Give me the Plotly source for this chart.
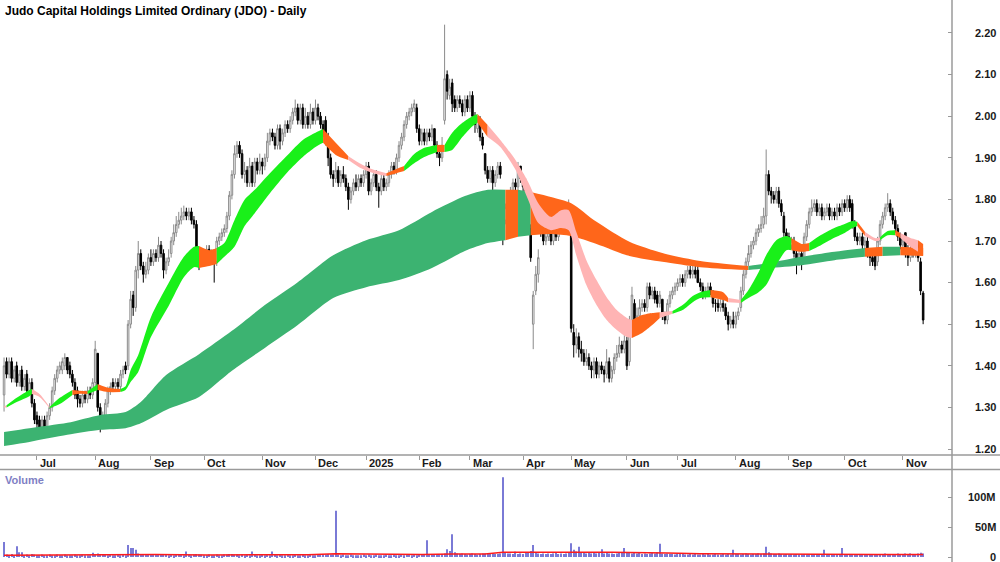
import pandas as pd
import plotly.graph_objects as go

# ---------------- trading days (ASX) ----------------
asx_holidays = ['2024-12-25', '2024-12-26', '2025-01-01', '2025-01-27',
                '2025-04-18', '2025-04-21', '2025-04-25', '2025-06-09']
dates = [d.strftime('%Y-%m-%d') for d in pd.bdate_range('2024-06-12', '2025-11-13')
         if d.strftime('%Y-%m-%d') not in asx_holidays]

# ---------------- daily prices ----------------
opens = [
 1.33,1.41,1.38,1.41,1.37,1.40,1.36,1.39,1.35,1.38,
 1.34,1.36,1.31,1.28,1.27,1.25,1.27,1.25,1.28,1.30,
 1.34,1.37,1.39,1.39,1.40,1.42,1.40,1.38,1.36,1.34,
 1.32,1.31,1.33,1.32,1.34,1.33,1.36,1.43,1.30,1.26,
 1.27,1.31,1.34,1.36,1.35,1.36,1.35,1.38,1.40,1.40,
 1.50,1.57,1.54,1.63,1.67,1.64,1.62,1.63,1.66,1.65,
 1.67,1.66,1.69,1.67,1.63,1.65,1.67,1.70,1.72,1.74,
 1.75,1.76,1.77,1.76,1.77,1.75,1.74,1.66,1.65,1.67,
 1.66,1.68,1.66,1.67,1.65,1.70,1.71,1.72,1.73,1.76,
 1.81,1.86,1.91,1.93,1.91,1.86,1.87,1.84,1.88,1.84,
 1.89,1.87,1.89,1.88,1.90,1.94,1.96,1.95,1.93,1.97,
 1.94,1.96,1.98,1.97,1.99,2.01,2.02,1.99,2.02,1.98,
 2.00,1.98,2.01,1.99,2.02,2.00,1.98,1.99,1.94,1.90,
 1.86,1.85,1.87,1.84,1.86,1.85,1.83,1.80,1.82,1.84,
 1.83,1.85,1.84,1.86,1.88,1.82,1.84,1.86,1.83,1.82,
 1.85,1.83,1.84,1.86,1.88,1.87,1.90,1.93,1.95,1.98,
 2.00,2.01,2.02,2.02,1.97,1.94,1.96,1.94,1.96,1.95,
 1.97,1.93,1.91,1.90,1.99,2.10,2.05,2.08,2.04,2.02,
 2.04,2.03,2.01,2.04,2.02,2.05,2.00,1.97,1.99,1.95,
 1.91,1.87,1.85,1.87,1.84,1.86,1.88,1.78,1.75,1.78,
 1.80,1.82,1.84,1.83,1.88,1.85,1.83,1.80,1.73,1.50,
 1.58,1.62,1.76,1.72,1.70,1.71,1.72,1.70,1.72,1.71,
 1.73,1.75,1.77,1.77,1.77,1.48,1.45,1.47,1.44,1.43,
 1.41,1.42,1.40,1.39,1.41,1.38,1.40,1.39,1.38,1.41,
 1.37,1.39,1.42,1.43,1.45,1.44,1.46,1.41,1.50,1.55,
 1.51,1.52,1.54,1.55,1.54,1.59,1.57,1.58,1.57,1.55,
 1.56,1.52,1.51,1.55,1.57,1.58,1.59,1.60,1.61,1.60,
 1.62,1.63,1.62,1.63,1.63,1.60,1.59,1.57,1.58,1.59,
 1.58,1.55,1.55,1.54,1.55,1.54,1.52,1.50,1.51,1.50,
 1.52,1.54,1.58,1.62,1.65,1.67,1.69,1.70,1.72,1.73,
 1.74,1.76,1.86,1.82,1.81,1.80,1.82,1.79,1.76,1.72,
 1.71,1.69,1.70,1.67,1.65,1.67,1.65,1.71,1.74,1.77,
 1.78,1.79,1.77,1.78,1.76,1.77,1.78,1.76,1.77,1.76,
 1.78,1.77,1.79,1.78,1.80,1.79,1.74,1.71,1.70,1.71,
 1.69,1.70,1.67,1.66,1.67,1.65,1.70,1.74,1.76,1.78,
 1.79,1.77,1.75,1.73,1.71,1.69,1.72,1.67,1.66,1.68,
 1.67,1.69,1.65,1.575]

highs = [
 1.42,1.42,1.42,1.42,1.40,1.41,1.39,1.40,1.38,1.39,
 1.37,1.37,1.32,1.29,1.28,1.28,1.28,1.29,1.31,1.35,
 1.38,1.40,1.41,1.42,1.43,1.42,1.41,1.39,1.37,1.35,
 1.33,1.34,1.34,1.35,1.35,1.37,1.46,1.43,1.31,1.29,
 1.32,1.35,1.36,1.37,1.37,1.37,1.39,1.40,1.41,1.51,
 1.58,1.58,1.64,1.70,1.68,1.65,1.65,1.67,1.68,1.68,
 1.68,1.71,1.70,1.68,1.66,1.68,1.71,1.74,1.76,1.77,
 1.78,1.785,1.78,1.78,1.78,1.76,1.75,1.67,1.68,1.68,
 1.69,1.69,1.68,1.68,1.71,1.72,1.73,1.74,1.77,1.82,
 1.87,1.93,1.94,1.94,1.92,1.89,1.88,1.90,1.89,1.90,
 1.90,1.91,1.90,1.91,1.96,1.97,1.97,1.96,1.98,1.98,
 1.97,1.99,1.99,2.00,2.02,2.04,2.03,2.03,2.03,2.02,
 2.01,2.03,2.02,2.04,2.03,2.01,1.99,2.00,1.96,1.91,
 1.87,1.89,1.88,1.87,1.88,1.86,1.84,1.83,1.85,1.86,
 1.86,1.86,1.87,1.89,1.89,1.85,1.87,1.87,1.84,1.86,
 1.86,1.85,1.87,1.89,1.89,1.91,1.94,1.96,1.99,2.01,
 2.02,2.03,2.04,2.03,1.98,1.97,1.97,1.97,1.97,1.98,
 1.97,1.94,1.92,1.95,2.22,2.11,2.09,2.09,2.05,2.05,
 2.05,2.04,2.05,2.05,2.06,2.06,2.01,2.00,2.00,1.96,
 1.91,1.88,1.88,1.88,1.87,1.89,1.89,1.79,1.79,1.81,
 1.83,1.85,1.85,1.89,1.88,1.86,1.85,1.81,1.74,1.58,
 1.64,1.68,1.77,1.73,1.72,1.73,1.73,1.73,1.73,1.74,
 1.76,1.78,1.79,1.80,1.78,1.50,1.49,1.48,1.46,1.44,
 1.44,1.43,1.41,1.42,1.42,1.41,1.41,1.40,1.44,1.42,
 1.40,1.43,1.45,1.47,1.46,1.48,1.47,1.52,1.59,1.56,
 1.54,1.56,1.56,1.56,1.60,1.60,1.59,1.59,1.58,1.58,
 1.56,1.53,1.56,1.58,1.59,1.60,1.61,1.62,1.62,1.63,
 1.64,1.64,1.64,1.64,1.64,1.61,1.60,1.59,1.60,1.60,
 1.58,1.56,1.56,1.56,1.56,1.55,1.53,1.52,1.53,1.53,
 1.54,1.59,1.63,1.66,1.69,1.70,1.71,1.73,1.74,1.76,
 1.78,1.92,1.87,1.83,1.82,1.83,1.83,1.80,1.77,1.73,
 1.72,1.71,1.71,1.68,1.68,1.68,1.72,1.75,1.78,1.80,
 1.80,1.80,1.79,1.79,1.78,1.79,1.79,1.78,1.78,1.79,
 1.79,1.80,1.80,1.81,1.81,1.80,1.75,1.72,1.72,1.72,
 1.71,1.71,1.68,1.67,1.68,1.71,1.75,1.77,1.79,1.815,
 1.80,1.78,1.76,1.74,1.72,1.71,1.72,1.69,1.69,1.70,
 1.70,1.70,1.66,1.58]

lows = [
 1.29,1.37,1.37,1.36,1.36,1.35,1.35,1.34,1.34,1.33,
 1.33,1.30,1.26,1.24,1.23,1.24,1.23,1.24,1.27,1.29,
 1.33,1.36,1.38,1.38,1.39,1.38,1.37,1.35,1.32,1.30,
 1.30,1.30,1.31,1.31,1.32,1.32,1.35,1.29,1.24,1.25,
 1.26,1.30,1.33,1.34,1.34,1.34,1.34,1.37,1.38,1.39,
 1.49,1.52,1.53,1.61,1.63,1.60,1.61,1.62,1.64,1.64,
 1.65,1.65,1.66,1.61,1.62,1.64,1.66,1.69,1.71,1.73,
 1.74,1.75,1.75,1.75,1.74,1.73,1.65,1.63,1.64,1.65,
 1.65,1.65,1.65,1.60,1.64,1.69,1.70,1.71,1.72,1.75,
 1.80,1.85,1.90,1.90,1.85,1.84,1.83,1.83,1.83,1.83,
 1.86,1.86,1.86,1.87,1.89,1.93,1.94,1.92,1.92,1.92,
 1.93,1.95,1.96,1.96,1.98,2.00,1.98,1.98,1.97,1.97,
 1.97,1.97,1.98,1.98,1.99,1.97,1.95,1.93,1.88,1.85,
 1.83,1.84,1.83,1.83,1.84,1.82,1.775,1.79,1.81,1.82,
 1.82,1.83,1.83,1.85,1.81,1.81,1.83,1.82,1.78,1.81,
 1.82,1.82,1.83,1.85,1.86,1.86,1.89,1.92,1.94,1.97,
 1.99,2.00,2.01,1.96,1.93,1.93,1.93,1.93,1.94,1.94,
 1.92,1.90,1.88,1.89,1.98,2.04,2.04,2.01,2.01,2.01,
 2.02,2.00,2.00,2.01,2.01,1.99,1.96,1.96,1.94,1.92,
 1.86,1.84,1.84,1.82,1.83,1.85,1.85,1.69,1.74,1.77,
 1.79,1.81,1.82,1.82,1.84,1.82,1.80,1.74,1.65,1.44,
 1.57,1.60,1.71,1.69,1.69,1.70,1.69,1.69,1.70,1.70,
 1.72,1.74,1.76,1.76,1.48,1.42,1.43,1.42,1.41,1.40,
 1.40,1.39,1.37,1.37,1.37,1.37,1.38,1.36,1.37,1.36,
 1.36,1.38,1.41,1.42,1.43,1.43,1.39,1.40,1.49,1.495,
 1.50,1.51,1.53,1.53,1.53,1.56,1.56,1.55,1.54,1.54,
 1.51,1.50,1.50,1.54,1.56,1.57,1.58,1.59,1.59,1.59,
 1.61,1.61,1.61,1.61,1.60,1.58,1.56,1.56,1.57,1.57,
 1.54,1.53,1.53,1.53,1.53,1.51,1.485,1.49,1.49,1.49,
 1.51,1.53,1.57,1.61,1.64,1.66,1.68,1.69,1.71,1.72,
 1.73,1.74,1.81,1.79,1.79,1.79,1.78,1.76,1.71,1.70,
 1.68,1.68,1.66,1.62,1.64,1.63,1.65,1.70,1.73,1.76,
 1.77,1.76,1.76,1.75,1.75,1.76,1.75,1.75,1.75,1.75,
 1.76,1.76,1.77,1.77,1.77,1.73,1.70,1.69,1.69,1.68,
 1.68,1.66,1.64,1.64,1.63,1.64,1.69,1.73,1.75,1.77,
 1.76,1.74,1.72,1.70,1.68,1.68,1.66,1.64,1.65,1.66,
 1.66,1.65,1.57,1.50]

closes = [
 1.40,1.38,1.41,1.37,1.39,1.36,1.38,1.35,1.37,1.34,
 1.36,1.31,1.27,1.26,1.25,1.27,1.25,1.28,1.30,1.34,
 1.37,1.39,1.40,1.41,1.42,1.39,1.38,1.36,1.33,1.32,
 1.31,1.33,1.32,1.34,1.33,1.36,1.44,1.30,1.26,1.27,
 1.31,1.34,1.35,1.35,1.36,1.35,1.38,1.39,1.39,1.50,
 1.56,1.54,1.63,1.67,1.64,1.62,1.63,1.66,1.65,1.67,
 1.66,1.69,1.67,1.63,1.65,1.66,1.70,1.72,1.74,1.75,
 1.76,1.77,1.76,1.77,1.75,1.74,1.66,1.65,1.67,1.66,
 1.68,1.66,1.67,1.65,1.70,1.71,1.72,1.73,1.76,1.81,
 1.86,1.91,1.93,1.91,1.86,1.87,1.84,1.88,1.84,1.89,
 1.87,1.89,1.88,1.90,1.94,1.96,1.95,1.93,1.97,1.94,
 1.96,1.98,1.97,1.99,2.01,2.02,1.99,2.02,1.98,2.00,
 1.98,2.01,1.99,2.02,2.00,1.98,1.96,1.94,1.90,1.86,
 1.85,1.87,1.84,1.86,1.85,1.83,1.80,1.82,1.84,1.83,
 1.85,1.84,1.86,1.88,1.82,1.84,1.86,1.83,1.82,1.85,
 1.83,1.84,1.86,1.88,1.87,1.90,1.93,1.95,1.98,2.00,
 2.01,2.02,2.03,1.97,1.94,1.96,1.94,1.96,1.95,1.97,
 1.93,1.91,1.90,1.93,2.09,2.06,2.07,2.03,2.02,2.04,
 2.03,2.01,2.04,2.02,2.05,2.00,1.98,1.99,1.95,1.93,
 1.87,1.85,1.87,1.84,1.86,1.88,1.86,1.75,1.78,1.80,
 1.82,1.84,1.83,1.88,1.85,1.83,1.82,1.75,1.66,1.57,
 1.62,1.66,1.72,1.70,1.71,1.72,1.70,1.72,1.71,1.73,
 1.75,1.77,1.78,1.79,1.49,1.45,1.47,1.44,1.43,1.41,
 1.42,1.40,1.39,1.41,1.38,1.40,1.39,1.38,1.41,1.37,
 1.39,1.42,1.43,1.45,1.44,1.46,1.40,1.51,1.57,1.51,
 1.52,1.54,1.55,1.54,1.59,1.57,1.58,1.56,1.55,1.57,
 1.52,1.51,1.55,1.57,1.58,1.59,1.60,1.61,1.60,1.62,
 1.63,1.62,1.63,1.62,1.60,1.59,1.57,1.58,1.59,1.58,
 1.55,1.55,1.54,1.55,1.54,1.52,1.50,1.51,1.50,1.52,
 1.53,1.58,1.62,1.65,1.67,1.69,1.70,1.72,1.73,1.74,
 1.76,1.86,1.82,1.81,1.80,1.82,1.79,1.77,1.72,1.71,
 1.69,1.70,1.67,1.65,1.67,1.65,1.71,1.74,1.77,1.78,
 1.79,1.77,1.78,1.76,1.77,1.78,1.76,1.77,1.76,1.78,
 1.77,1.79,1.78,1.80,1.78,1.74,1.71,1.70,1.71,1.69,
 1.70,1.67,1.66,1.65,1.64,1.70,1.74,1.76,1.78,1.79,
 1.77,1.75,1.73,1.71,1.69,1.70,1.67,1.66,1.68,1.67,
 1.69,1.66,1.58,1.51]

# volume in millions of shares
volume_m = [
 25,4,3,5,3,18,8,8,3,4,
 3,5,4,3,3,4,3,3,4,3,
 3,4,3,3,4,3,3,3,4,3,
 3,4,3,3,3,7,4,6,5,4,
 4,3,4,3,3,4,3,4,3,20,
 15,15,12,6,5,4,4,5,4,4,
 4,4,5,4,4,3,4,3,4,4,
 4,3,9,4,3,4,5,4,4,3,
 3,4,3,3,4,3,3,4,4,5,
 5,4,4,3,4,3,4,3,9,4,
 3,3,4,3,4,3,9,4,3,4,
 3,3,4,3,3,4,3,3,4,3,
 3,4,3,3,4,5,4,4,5,4,
 4,77,4,3,4,3,3,4,3,3,
 3,3,4,3,4,3,3,4,3,3,
 3,4,3,3,4,3,3,4,3,4,
 4,3,4,3,4,5,4,28,5,4,
 4,5,4,5,6,13,10,38,8,6,
 5,6,5,4,5,6,5,4,5,6,
 6,5,5,6,5,5,6,133,8,6,
 6,5,9,5,6,5,7,8,10,20,
 8,6,5,6,5,6,5,6,7,5,
 6,5,6,7,23,12,9,17,8,7,
 6,7,6,8,6,7,13,6,7,6,
 6,5,6,7,8,15,7,8,6,7,
 6,7,5,6,5,6,7,6,8,22,
 6,5,6,5,5,4,5,6,5,4,
 4,5,4,5,4,4,5,4,5,4,
 4,5,4,4,5,4,5,4,12,5,
 5,4,5,6,5,4,5,5,6,5,
 6,17,8,6,5,5,6,5,4,5,
 4,5,4,5,4,4,5,4,4,5,
 4,4,4,5,12,4,4,4,4,5,
 5,15,5,4,4,5,4,4,4,5,
 4,4,5,4,5,4,4,5,6,4,
 5,4,5,6,5,5,6,5,6,5,
 5,6,7,6]

# volume moving average (millions), read at sampled days
vma_day = [0, 20, 40, 50, 60, 80, 100, 120, 131, 150, 165, 177, 190, 197, 210, 225,
           240, 255, 262, 275, 290, 300, 315, 330, 345, 363]
vma_val = [3.0, 3.5, 3.0, 4.5, 4.0, 3.5, 3.5, 3.8, 5.5, 5.0, 4.0, 5.0, 5.0, 8.0, 8.5, 8.0,
           8.0, 7.5, 6.5, 5.5, 5.0, 5.5, 5.0, 4.5, 4.0, 4.0]

# ---------------- GMMA ribbons (edges read at sampled days) ----------------
# state = trend of the interval that starts at that sample
short_day = [0, 1, 5, 10, 11, 14, 18, 22, 27, 30, 33, 37, 41, 46, 48, 50, 53, 58, 65, 71,
             75, 77, 81, 84, 87, 91, 95, 99, 105, 112, 118, 123, 126, 131, 136, 141, 146, 151, 155, 158,
             162, 166, 171, 174, 177, 181, 185, 187, 191, 196, 202, 207, 211, 216, 220, 223, 226, 230, 234, 238,
             242, 246, 248, 252, 256, 259, 264, 268, 272, 275, 279, 284, 286, 291, 294, 298, 301, 305, 309, 311,
             315, 318, 322, 327, 332, 335, 337, 340, 344, 346, 349, 352, 354, 358, 361, 363]
short_hi = [1.303, 1.305, 1.323, 1.342, 1.344, 1.332, 1.301, 1.323, 1.342, 1.340, 1.339, 1.356, 1.347, 1.344, 1.351, 1.390, 1.426, 1.517, 1.599, 1.662,
            1.686, 1.688, 1.678, 1.683, 1.695, 1.750, 1.799, 1.823, 1.863, 1.907, 1.943, 1.960, 1.969, 1.936, 1.904, 1.885, 1.871, 1.863, 1.873, 1.880,
            1.909, 1.924, 1.931, 1.931, 1.960, 1.984, 2.000, 2.005, 1.979, 1.943, 1.895, 1.842, 1.791, 1.758, 1.774, 1.774, 1.722, 1.654, 1.606, 1.565,
            1.534, 1.515, 1.510, 1.522, 1.527, 1.529, 1.532, 1.546, 1.568, 1.577, 1.582, 1.577, 1.563, 1.558, 1.582, 1.625, 1.666, 1.702, 1.712, 1.707,
            1.693, 1.695, 1.712, 1.729, 1.741, 1.748, 1.746, 1.722, 1.707, 1.709, 1.724, 1.726, 1.719, 1.707, 1.702, 1.693]
short_lo = [1.300, 1.300, 1.313, 1.327, 1.332, 1.325, 1.298, 1.308, 1.330, 1.333, 1.332, 1.342, 1.337, 1.337, 1.342, 1.361, 1.385, 1.469, 1.544, 1.613,
            1.637, 1.635, 1.640, 1.645, 1.662, 1.686, 1.736, 1.767, 1.815, 1.866, 1.902, 1.926, 1.936, 1.907, 1.895, 1.875, 1.863, 1.856, 1.863, 1.868,
            1.887, 1.902, 1.914, 1.914, 1.919, 1.950, 1.976, 1.984, 1.950, 1.926, 1.871, 1.799, 1.743, 1.726, 1.731, 1.726, 1.666, 1.594, 1.546, 1.510,
            1.486, 1.469, 1.467, 1.479, 1.498, 1.515, 1.525, 1.534, 1.553, 1.563, 1.565, 1.558, 1.553, 1.551, 1.563, 1.577, 1.594, 1.642, 1.678, 1.678,
            1.674, 1.676, 1.688, 1.705, 1.719, 1.731, 1.736, 1.712, 1.700, 1.702, 1.714, 1.714, 1.707, 1.686, 1.674, 1.666]
short_state = ['weak', 'up', 'up', 'up', 'weak', 'weak', 'up', 'up', 'down', 'down', 'up', 'down', 'down', 'up', 'up', 'up', 'up', 'up', 'up', 'up',
               'up', 'down', 'down', 'up', 'up', 'up', 'up', 'up', 'up', 'up', 'up', 'up', 'down', 'down', 'weak', 'weak', 'weak', 'down', 'down', 'up',
               'up', 'up', 'down', 'up', 'up', 'up', 'up', 'down', 'weak', 'weak', 'weak', 'weak', 'weak', 'weak', 'weak', 'weak', 'weak', 'weak', 'weak', 'weak',
               'weak', 'weak', 'down', 'down', 'down', 'weak', 'up', 'up', 'up', 'up', 'down', 'down', 'weak', 'up', 'up', 'up', 'up', 'up', 'up', 'down',
               'down', 'up', 'up', 'up', 'up', 'up', 'down', 'weak', 'weak', 'up', 'up', 'down', 'weak', 'weak', 'down', None]

long_day = [0, 10, 25, 38, 48, 54, 64, 77, 90, 103, 116, 130, 143, 156, 169, 182, 191, 198, 203, 208,
            216, 224, 234, 247, 260, 275, 294, 302, 315, 328, 340, 347, 354, 363]
long_hi = [1.241, 1.250, 1.263, 1.282, 1.289, 1.313, 1.378, 1.428, 1.484, 1.546, 1.601, 1.666, 1.702, 1.726, 1.770, 1.808, 1.823, 1.823, 1.823, 1.818,
           1.806, 1.791, 1.746, 1.698, 1.671, 1.652, 1.640, 1.647, 1.662, 1.674, 1.683, 1.686, 1.686, 1.683]
long_lo = [1.207, 1.217, 1.234, 1.246, 1.250, 1.262, 1.294, 1.325, 1.388, 1.443, 1.498, 1.563, 1.589, 1.606, 1.635, 1.676, 1.695, 1.702, 1.710, 1.714,
           1.717, 1.712, 1.693, 1.664, 1.650, 1.637, 1.630, 1.635, 1.642, 1.654, 1.662, 1.664, 1.666, 1.664]
long_state = ['up'] * 17 + ['down', 'up', 'down', 'down', 'down', 'down', 'down', 'down', 'down',
                            'up', 'up', 'up', 'up', 'down', 'up', 'down', None]

month_starts = ['2024-07-01', '2024-08-01', '2024-09-02', '2024-10-01', '2024-11-01', '2024-12-02',
                '2025-01-02', '2025-02-03', '2025-03-03', '2025-04-01', '2025-05-01', '2025-06-02',
                '2025-07-01', '2025-08-01', '2025-09-01', '2025-10-01', '2025-11-03']
month_labels = ['Jul', 'Aug', 'Sep', 'Oct', 'Nov', 'Dec', '2025', 'Feb', 'Mar', 'Apr', 'May', 'Jun',
                'Jul', 'Aug', 'Sep', 'Oct', 'Nov']
price_ticks = [1.2, 1.3, 1.4, 1.5, 1.6, 1.7, 1.8, 1.9, 2.0, 2.1, 2.2]
vol_ticks = [0, 50, 100]
vol_tick_labels = ['0', '50M', '100M']

n = len(dates)
for name, arr in [('opens', opens), ('highs', highs), ('lows', lows), ('closes', closes), ('volume', volume_m)]:
    if len(arr) != n:
        raise SystemExit(f'{name} has {len(arr)} values, expected {n}')

# ---------------- figure ----------------
SHORT_COL = {'up': '#19f019', 'down': '#ff661a', 'weak': '#ffb4b4'}
LONG_COL = {'up': '#3cb371', 'down': '#ff661a'}
FONT = 'Liberation Sans, Arial, sans-serif'

fig = go.Figure()


def add_ribbon(days, hi, lo, state, cmap):
    k = 0
    m = len(days)
    while k < m - 1:
        s = state[k]
        j = k
        while j < m - 1 and state[j] == s:
            j += 1
        xs = [dates[i] for i in days[k:j + 1]]
        ln = dict(width=0, shape='spline', smoothing=0.7)
        fig.add_trace(go.Scatter(x=xs, y=lo[k:j + 1], mode='lines', line=ln,
                                 hoverinfo='skip', xaxis='x', yaxis='y'))
        fig.add_trace(go.Scatter(x=xs, y=hi[k:j + 1], mode='lines', line=ln,
                                 fill='tonexty', fillcolor=cmap[s],
                                 hoverinfo='skip', xaxis='x', yaxis='y'))
        k = j


add_ribbon(long_day, long_hi, long_lo, long_state, LONG_COL)
add_ribbon(short_day, short_hi, short_lo, short_state, SHORT_COL)

fig.add_trace(go.Candlestick(
    x=dates, open=opens, high=highs, low=lows, close=closes,
    increasing=dict(line=dict(color='#8a8a8a', width=1), fillcolor='#ffffff'),
    decreasing=dict(line=dict(color='#000000', width=1), fillcolor='#000000'),
    whiskerwidth=0, xaxis='x', yaxis='y', hoverinfo='skip'))

fig.add_trace(go.Bar(x=dates, y=volume_m, marker=dict(color='#7a7ad6', line=dict(width=0)),
                     width=0.45, xaxis='x2', yaxis='y2', hoverinfo='skip'))
fig.add_trace(go.Scatter(x=[dates[i] for i in vma_day], y=vma_val, mode='lines',
                         line=dict(color='#ff1a1a', width=1.5), xaxis='x2', yaxis='y2',
                         hoverinfo='skip'))

W, H = 1000, 562
PLOT_W = 952
price_bottom = 455
vol_top = 470
xr = [-1.6, 374.4]

fig.update_layout(
    width=W, height=H, margin=dict(l=0, r=W - PLOT_W, t=0, b=0),
    paper_bgcolor='white', plot_bgcolor='white', showlegend=False,
    boxgap=0.12,
    font=dict(family=FONT, size=11, color='#1a1a1a'),
    xaxis=dict(type='category', categoryorder='array', categoryarray=dates, range=xr,
               domain=[0, 1], anchor='y', showgrid=False, zeroline=False, showline=False,
               tickmode='array', tickvals=month_starts, ticks='outside', ticklen=4,
               tickcolor='#999999', showticklabels=False, rangeslider=dict(visible=False)),
    yaxis=dict(domain=[1 - price_bottom / H, 1], range=[1.1856, 2.2793], side='right',
               anchor='x', showgrid=False, zeroline=False, showline=False,
               tickmode='array', tickvals=price_ticks,
               ticktext=['<b>%.2f</b>' % v for v in price_ticks],
               ticks='inside', ticklen=4, tickcolor='#999999',
               tickfont=dict(family=FONT, size=11, color='#1a1a1a'), ticklabelstandoff=22),
    xaxis2=dict(type='category', categoryorder='array', categoryarray=dates, range=xr,
                domain=[0, 1], anchor='y2', showgrid=False, zeroline=False, showline=False,
                showticklabels=False, ticks=''),
    yaxis2=dict(domain=[0, 1 - vol_top / H], range=[-8.3, 145], side='right', anchor='x2',
                showgrid=False, zeroline=False, showline=False, tickmode='array',
                tickvals=vol_ticks, ticks='inside', ticklen=4, tickcolor='#999999',
                showticklabels=False),
)

line_col = '#9a9a9a'
fig.add_shape(type='line', xref='paper', yref='paper', x0=1, x1=1, y0=0, y1=1,
              line=dict(color=line_col, width=1.5))
fig.add_shape(type='line', xref='paper', yref='paper', x0=0, x1=W / PLOT_W,
              y0=1 - price_bottom / H, y1=1 - price_bottom / H, line=dict(color=line_col, width=1.5))
fig.add_shape(type='line', xref='paper', yref='paper', x0=0, x1=W / PLOT_W,
              y0=1 - 469.5 / H, y1=1 - 469.5 / H, line=dict(color=line_col, width=1.5))

ann = []
ann.append(dict(text='<b>Judo Capital Holdings Limited Ordinary (JDO) - Daily</b>',
                xref='paper', yref='paper', x=0, y=1, xanchor='left', yanchor='top',
                xshift=3, yshift=-2, showarrow=False,
                font=dict(family=FONT, size=12, color='#000000')))
for d, lab in zip(month_starts, month_labels):
    ann.append(dict(text='<b>%s</b>' % lab, xref='x', yref='paper', x=d, y=1 - 462.5 / H,
                    xanchor='left', yanchor='middle', xshift=1, showarrow=False,
                    font=dict(family=FONT, size=11, color='#1a1a1a')))
ann.append(dict(text='<b>Volume</b>', xref='paper', yref='paper', x=0, y=1 - vol_top / H,
                xanchor='left', yanchor='top', xshift=3, yshift=-2, showarrow=False,
                font=dict(family=FONT, size=11, color='#7f7fc4')))
for v, lab in zip(vol_ticks, vol_tick_labels):
    ann.append(dict(text='<b>%s</b>' % lab, xref='paper', yref='y2', x=998 / PLOT_W, y=v,
                    xanchor='right', yanchor='middle', showarrow=False,
                    font=dict(family=FONT, size=11, color='#1a1a1a')))
fig.update_layout(annotations=ann)

fig.write_html('out.html')
